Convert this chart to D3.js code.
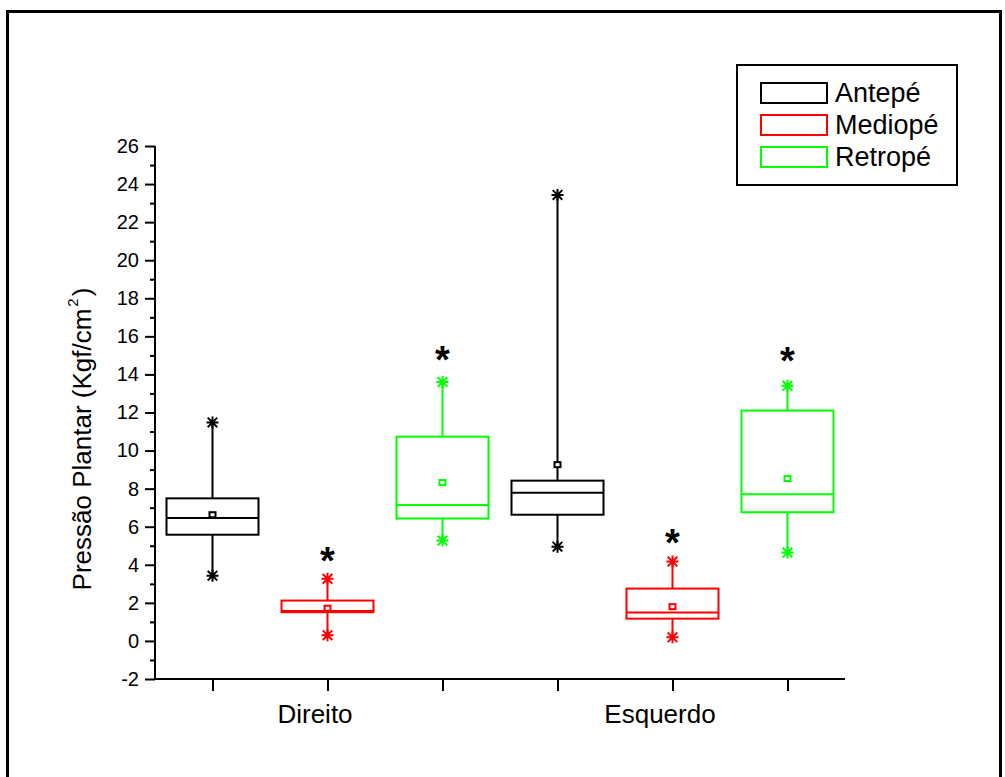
<!DOCTYPE html>
<html>
<head>
<meta charset="utf-8">
<script src="https://cdn.jsdelivr.net/npm/d3@7"></script>
<style>
  html, body { margin: 0; padding: 0; background: #fff; }
  svg { display: block; font-family: "Liberation Sans", Arial, sans-serif; }
</style>
</head>
<body>
<svg id="chart" width="1005" height="777"></svg>
<script>
// Plantar pressure by foot region, right (Direito) and left (Esquerdo) foot
const groups = ["Direito", "Esquerdo"];
const regions = ["Antepé", "Mediopé", "Retropé"];
const regionColors = ["#000000", "#ff0000", "#00ff00"];

// One entry per box, in order: Direito (Antepé, Mediopé, Retropé), Esquerdo (Antepé, Mediopé, Retropé)
const boxPositions = [1, 2, 3, 4, 5, 6];
const boxRegion    = [0, 1, 2, 0, 1, 2];
const q1Values     = [5.58, 1.51, 6.43, 6.63, 1.17, 6.76];
const medianValues = [6.46, 1.57, 7.14, 7.79, 1.49, 7.71];
const q3Values     = [7.49, 2.12, 10.73, 8.42, 2.75, 12.10];
const meanValues   = [6.63, 1.72, 8.32, 9.26, 1.80, 8.53];
const minValues    = [3.43, 0.30, 5.27, 4.95, 0.19, 4.64];
const maxValues    = [11.48, 3.26, 13.60, 23.43, 4.17, 13.40];

// Significance markers (position on x, value on y)
const sigPositions = [2, 3, 5, 6];
const sigValues    = [4.60, 15.20, 5.57, 15.15];

// Axis ticks
const yMajorTicks = [-2, 0, 2, 4, 6, 8, 10, 12, 14, 16, 18, 20, 22, 24, 26];
const yMinorTicks = [-1, 1, 3, 5, 7, 9, 11, 13, 15, 17, 19, 21, 23, 25];
const xTicks = [1, 2, 3, 4, 5, 6];
const xTickLabels = { 2: "Direito", 5: "Esquerdo" };

const svg = d3.select("#chart");

// outer frame
svg.append("rect")
  .attr("x", 7.5).attr("y", 11.5)
  .attr("width", 993).attr("height", 800)
  .attr("fill", "none").attr("stroke", "#000").attr("stroke-width", 3);

const x = d3.scaleLinear().domain([0.5, 6.5]).range([155, 845]);
const y = d3.scaleLinear().domain([-2, 26]).range([679, 146]);

// y axis
const yAxis = svg.append("g").attr("transform", `translate(${x(0.5)},0)`)
  .call(d3.axisLeft(y).tickValues(yMajorTicks).tickSize(10).tickPadding(6).tickFormat(d => String(d)));
yAxis.selectAll("text").attr("font-size", 20).attr("fill", "#000").attr("font-family", "Liberation Sans, Arial, sans-serif");
const yMinor = svg.append("g").attr("transform", `translate(${x(0.5)},0)`)
  .call(d3.axisLeft(y).tickValues(yMinorTicks).tickSize(5).tickFormat(""));
yMinor.select(".domain").remove();

// x axis
const xAxis = svg.append("g").attr("transform", `translate(0,${y(-2)})`)
  .call(d3.axisBottom(x).tickValues(xTicks).tickSize(12).tickPadding(14).tickFormat(d => xTickLabels[d] || ""));
xAxis.selectAll("text").attr("font-size", 26).attr("fill", "#000").attr("dx", -13)
  .attr("font-family", "Liberation Sans, Arial, sans-serif");

[yAxis, yMinor, xAxis].forEach(g => {
  g.selectAll("line").attr("stroke", "#000").attr("stroke-width", 2);
  g.selectAll(".domain").attr("stroke", "#000").attr("stroke-width", 2);
});
xAxis.select(".domain").attr("d", `M${x(0.5)},0H${x(6.5)}`);
yAxis.select(".domain").attr("d", `M0,${y(-2)}V${y(26)}`);

// y axis title
const title = svg.append("text")
  .attr("transform", `translate(91,439) rotate(-90)`)
  .attr("text-anchor", "middle")
  .attr("font-size", 26)
  .attr("fill", "#000");
title.append("tspan").text("Pressão Plantar (Kgf/cm");
title.append("tspan").attr("font-size", 15).attr("dx", 2).attr("dy", -13).text("2");
title.append("tspan").attr("dx", 2).attr("dy", 13).text(")");

// boxes
const halfW = (x(2) - x(1)) * 0.4;
const starPath = r => {
  const d = r * 0.8;
  return `M${-r},0H${r}M0,${-r}V${r}M${-d},${-d}L${d},${d}M${-d},${d}L${d},${-d}`;
};

const boxes = svg.append("g");
boxPositions.forEach((p, i) => {
  const c = regionColors[boxRegion[i]];
  const cx = x(p);
  const g = boxes.append("g").attr("stroke", c).attr("fill", "none").attr("stroke-width", 2);
  // whiskers
  g.append("line").attr("x1", cx).attr("x2", cx).attr("y1", y(q3Values[i])).attr("y2", y(maxValues[i]));
  g.append("line").attr("x1", cx).attr("x2", cx).attr("y1", y(q1Values[i])).attr("y2", y(minValues[i]));
  // box
  g.append("rect")
    .attr("x", cx - halfW).attr("width", 2 * halfW)
    .attr("y", y(q3Values[i])).attr("height", y(q1Values[i]) - y(q3Values[i]));
  // median
  g.append("line").attr("x1", cx - halfW).attr("x2", cx + halfW)
    .attr("y1", y(medianValues[i])).attr("y2", y(medianValues[i]));
  // mean
  g.append("rect").attr("x", cx - 3).attr("y", y(meanValues[i]) - 2.5)
    .attr("width", 6).attr("height", 5).attr("fill", "#fff");
  // min / max markers
  [minValues[i], maxValues[i]].forEach(v => {
    g.append("path").attr("d", starPath(6)).attr("transform", `translate(${cx},${y(v)})`);
  });
});

// significance asterisks
svg.append("g").selectAll("text").data(sigPositions).join("text")
  .attr("x", d => x(d))
  .attr("y", (d, i) => y(sigValues[i]) + 21)
  .attr("text-anchor", "middle")
  .attr("font-size", 38)
  .attr("font-weight", "bold")
  .attr("fill", "#000")
  .text("*");

// legend
const legend = svg.append("g");
legend.append("rect").attr("x", 737).attr("y", 65).attr("width", 220).attr("height", 120)
  .attr("fill", "#fff").attr("stroke", "#000").attr("stroke-width", 2);
regions.forEach((r, i) => {
  const yy = 93 + i * 32;
  legend.append("rect").attr("x", 761).attr("y", yy - 10).attr("width", 66).attr("height", 20)
    .attr("fill", "none").attr("stroke", regionColors[i]).attr("stroke-width", 2);
  legend.append("text").attr("x", 835).attr("y", yy + 9).attr("font-size", 27).attr("fill", "#000").text(r);
});
</script>
</body>
</html>
